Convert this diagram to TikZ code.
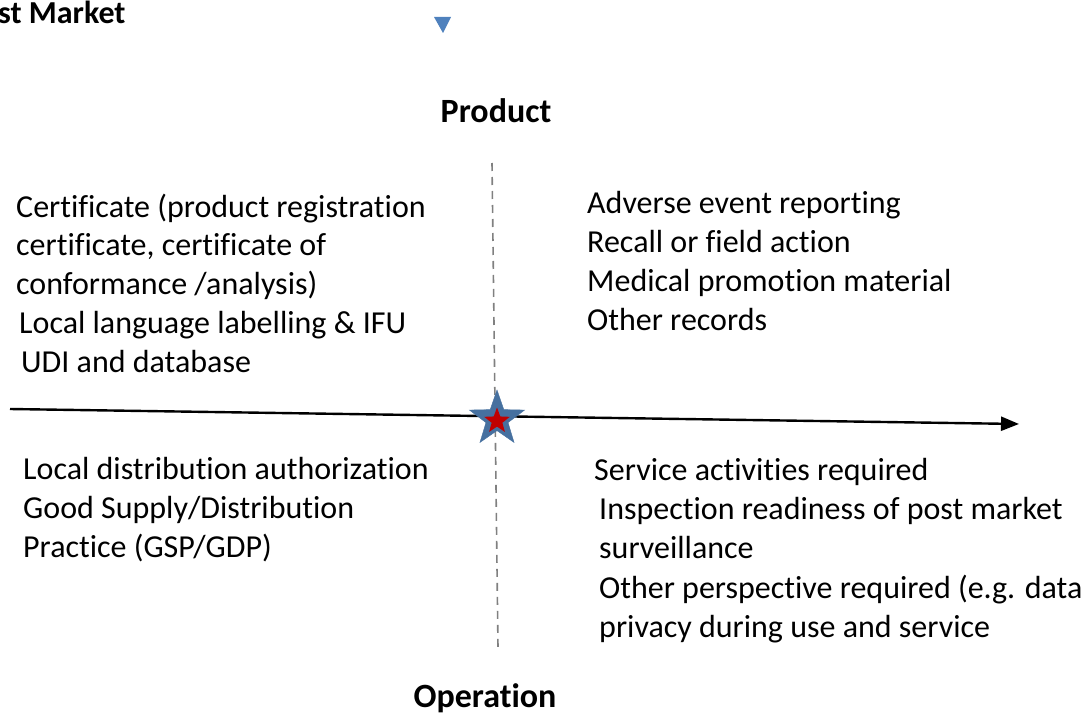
\documentclass[tikz,border=0pt]{standalone}
\usepackage{fontspec}
\setmainfont{Carlito}[Ligatures=NoCommon]
\usetikzlibrary{shapes.geometric,arrows.meta}
\definecolor{starblue}{HTML}{46709F}
\definecolor{starred}{HTML}{C00000}
\definecolor{triblue}{HTML}{4F81BD}
\tikzset{
  txt/.style={anchor=base west, inner sep=0pt, font=\fontsize{32}{39}\selectfont},
  ttl/.style={anchor=base, inner sep=0pt, font=\fontsize{34}{40}\selectfont\bfseries},
  axis/.style={line width=2.4pt, -{Triangle[length=18pt,width=14pt]}},
  divider/.style={draw=gray, line width=1.6pt, dash pattern=on 8pt off 6pt},
}
\begin{document}
\begin{tikzpicture}[x=1pt,y=-1pt]
\useasboundingbox (0,0) rectangle (1086,717);
\clip (0,0) rectangle (1086,717);
% top-left label (clipped in reference)
\node[anchor=base west, inner sep=0pt, font=\fontsize{32}{38}\selectfont\bfseries] (pm) at (-2,24) {st Market};
% small triangle
\fill[triblue] (434,17) -- (451,17) -- (443,33) -- cycle;
% titles
\node[ttl] (prod) at (496,122) {Product};
\node[ttl] (oper) at (485,707) {Operation};
% divider
\coordinate (dtop) at (492,163);
\coordinate (dbot) at (498,648);
\draw[divider] (dtop) -- (dbot);
% axis
\coordinate (aleft) at (10,409);
\coordinate (aright) at (1019,424);
\draw[axis] (aleft) -- (aright);
% star
\node[star, star points=5, star point ratio=2.5, minimum size=58pt, inner sep=0pt, fill=starblue, draw=starblue] (bstar) at (497,419) {};
\node[star, star points=5, star point ratio=2.4, minimum size=27pt, inner sep=0pt, fill=starred] (rstar) at (497,421) {};
% top-left block
\node[txt] (tl1) at (16,217) {Certificate (product registration};
\node[txt] (tl2) at (16,255) {certificate, certificate of};
\node[txt] (tl3) at (16,294) {conformance /analysis)};
\node[txt] (tl4) at (19,333) {Local language labelling \& IFU};
\node[txt] (tl5) at (21,372) {UDI and database};
% top-right block
\node[txt] (tr1) at (587,213) {Adverse event reporting};
\node[txt] (tr2) at (587,252) {Recall or field action};
\node[txt] (tr3) at (587,291) {Medical promotion material};
\node[txt] (tr4) at (587,330) {Other records};
% bottom-left block
\node[txt] (bl1) at (23,479) {Local distribution authorization};
\node[txt] (bl2) at (23,518) {Good Supply/Distribution};
\node[txt] (bl3) at (23,557) {Practice (GSP/GDP)};
% bottom-right block
\node[txt] (br1) at (594,480) {Service activities required};
\node[txt] (br2) at (599,519) {Inspection readiness of post market};
\node[txt] (br3) at (599,558) {surveillance};
\node[txt] (br4) at (599,598) {Other perspective required (e.g. data};
\node[txt] (br5) at (599,637) {privacy during use and service};
\end{tikzpicture}
\end{document}
